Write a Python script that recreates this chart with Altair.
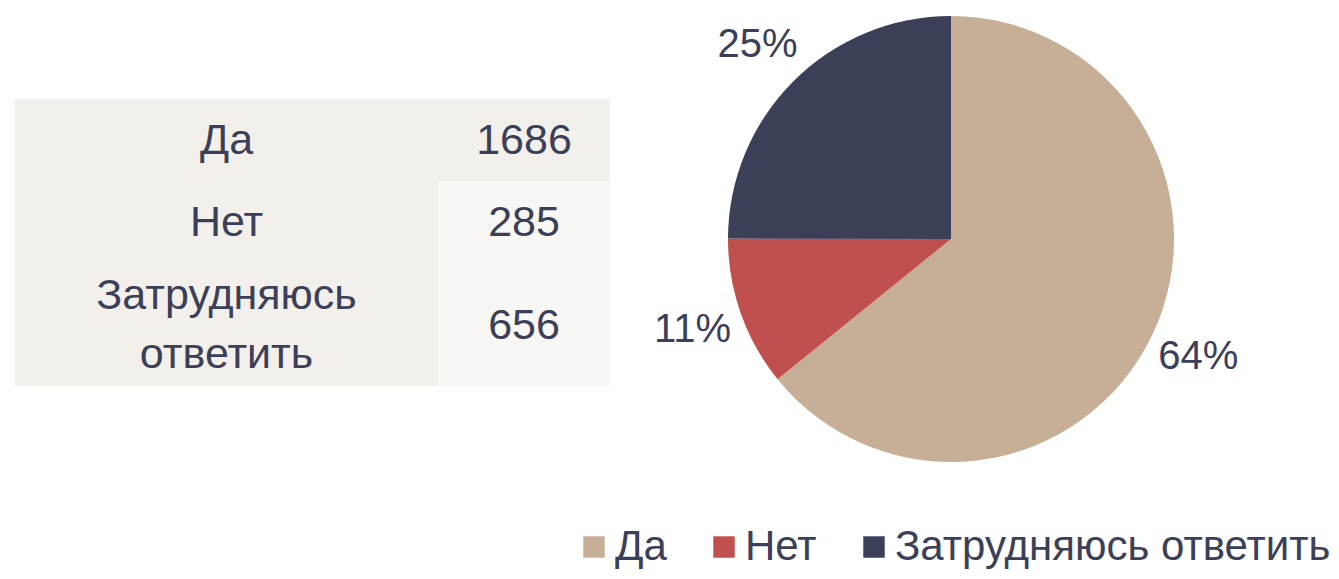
import altair as alt
import pandas as pd

# ---- data ----
categories = ["Да", "Нет", "Затрудняюсь ответить"]
table_labels = ["Да", "Нет", "Затрудняюсь\nответить"]
counts = [1686, 285, 656]
palette = ["#C6AF96", "#C0504D", "#3B3F58"]

TEXT = "#3B4058"
FONT = "Liberation Sans"

total = sum(counts)
pie_df = pd.DataFrame({
    "category": categories,
    "count": counts,
    "idx": list(range(len(categories))),
    "pct": [f"{round(c / total * 100)}%" for c in counts],
})

# ---- table geometry (layout in row units, derived from line counts) ----
SPLIT = 0.711        # column split as a fraction of table width
LINE_GAP = 0.71      # distance between text lines, in row units
cell_rows, text_rows = [], []
y0 = 0.0
for i, (lab, val) in enumerate(zip(table_labels, counts)):
    lines = lab.split("\n")
    h = 1 + 0.5 * (len(lines) - 1)
    mid = y0 + h / 2
    for col in (0, 1):
        cell_rows.append({
            "x0": 0 if col == 0 else SPLIT,
            "x1": SPLIT if col == 0 else 1,
            "y0": y0,
            "y1": y0 + h,
            "shade": "dark" if (col == 0 or i == 0) else "light",
        })
    for k, line in enumerate(lines):
        text_rows.append({
            "xm": SPLIT / 2,
            "ym": mid + (k - (len(lines) - 1) / 2) * LINE_GAP,
            "text": line,
        })
    text_rows.append({"xm": (SPLIT + 1) / 2, "ym": mid, "text": str(val)})
    y0 += h
cell_df = pd.DataFrame(cell_rows)
text_df = pd.DataFrame(text_rows)

xs = alt.Scale(domain=[0, 1], range=[7, 602])
ys = alt.Scale(domain=[0, y0], range=[91, 378])

cells = alt.Chart(cell_df).mark_rect().encode(
    x=alt.X("x0:Q", scale=xs, axis=None),
    x2="x1:Q",
    y=alt.Y("y0:Q", scale=ys, axis=None),
    y2="y1:Q",
    fill=alt.Fill("shade:N", scale=alt.Scale(domain=["dark", "light"], range=["#F3F0EB", "#F8F7F3"]), legend=None),
)

cell_text = alt.Chart(text_df).mark_text(
    font=FONT, fontSize=43, color=TEXT, baseline="middle", align="center", dy=1
).encode(
    x=alt.X("xm:Q", scale=xs, axis=None),
    y=alt.Y("ym:Q", scale=ys, axis=None),
    text="text:N",
)

CX, CY = 943, 231

pie = alt.Chart(pie_df).mark_arc(outerRadius=223).encode(
    theta=alt.Theta("count:Q", stack=True),
    order=alt.Order("idx:Q"),
    color=alt.Color(
        "category:N",
        scale=alt.Scale(domain=categories, range=palette),
        sort=categories,
        legend=alt.Legend(
            title=None, orient="none", direction="horizontal",
            legendX=565, legendY=518,
            symbolType="square", symbolSize=460, symbolStrokeWidth=0,
            labelFont=FONT, labelFontSize=42, labelColor=TEXT,
            labelOffset=0, columnPadding=36, padding=0, labelLimit=600,
        ),
    ),
    x=alt.value(CX),
    y=alt.value(CY),
)

labels = alt.Chart(pie_df).mark_text(
    radius=274, font=FONT, fontSize=40, color=TEXT, align="center", baseline="middle"
).encode(
    theta=alt.Theta("count:Q", stack=True),
    order=alt.Order("idx:Q"),
    text="pct:N",
    x=alt.value(CX),
    y=alt.value(CY),
)

chart = alt.layer(cells, cell_text, pie, labels).resolve_scale(
    color="independent", fill="independent"
).properties(
    width=1323, height=563, padding=0, autosize=alt.AutoSizeParams(type="none"),
).configure_view(stroke=None)

chart.save("out.html", embed_options={"renderer": "svg", "actions": False})
